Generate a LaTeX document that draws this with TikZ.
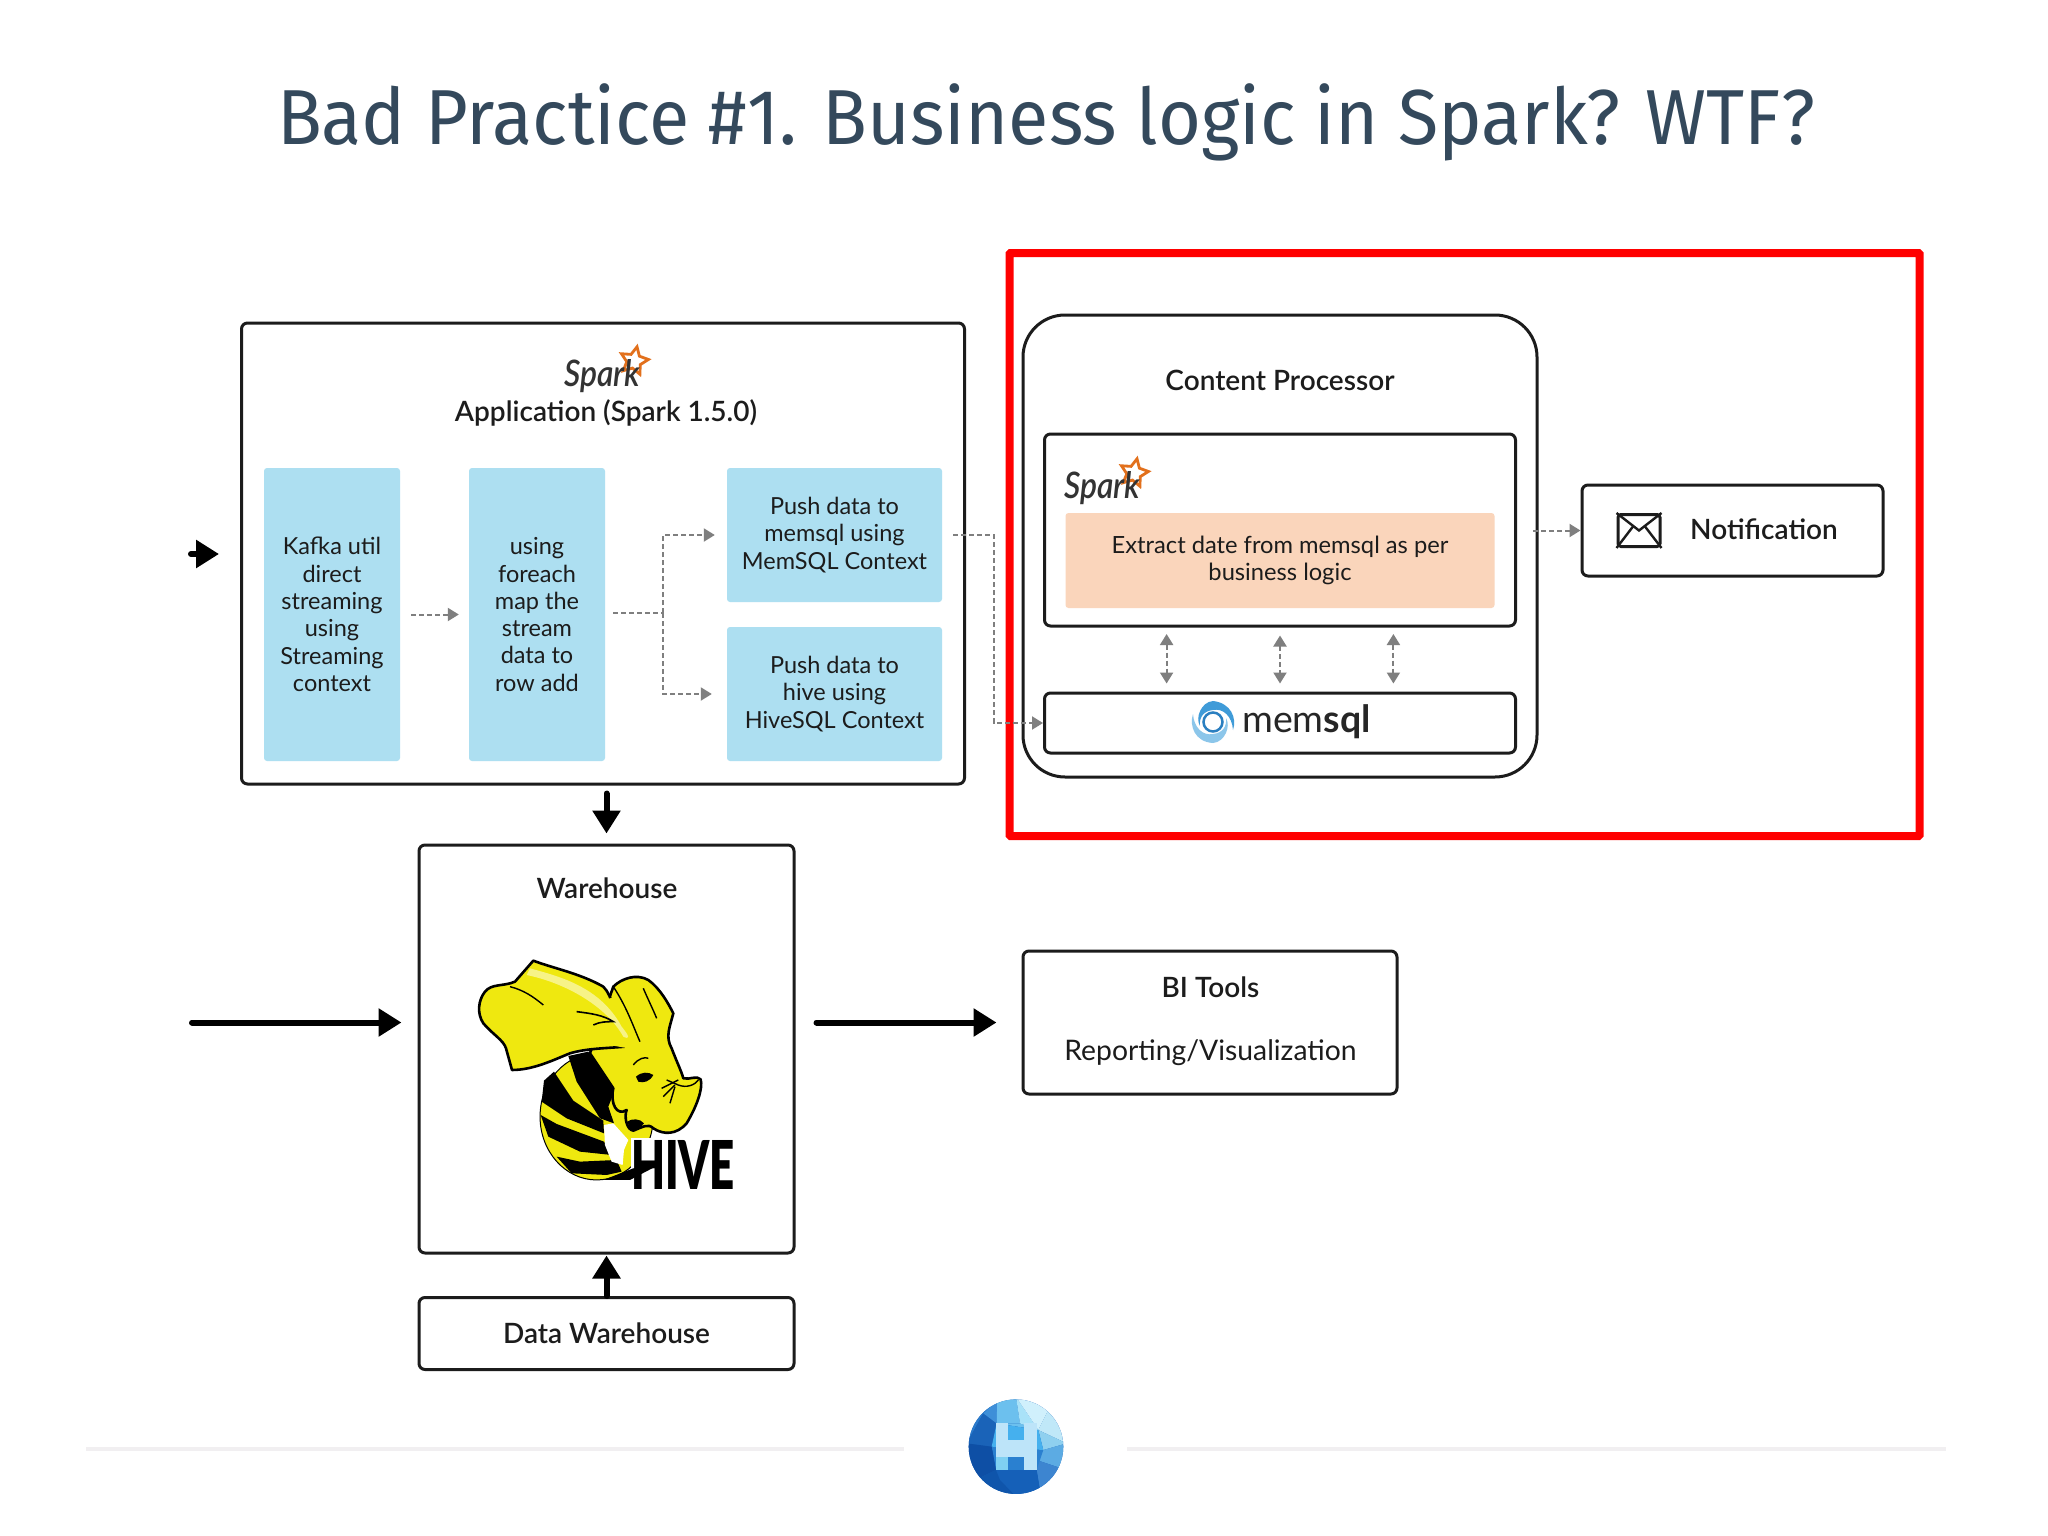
\documentclass[tikz,border=0pt]{standalone}
\usepackage{fontspec}
\usetikzlibrary{arrows.meta,shapes.geometric,calc}
\setmainfont{Lato}
\newfontfamily\titlefont{Fira Sans}
\newfontfamily\medfont{Lato Semibold}
\newfontfamily\heavyfont{Lato Black}
\definecolor{titlecol}{HTML}{34495C}
\definecolor{inkcol}{HTML}{1C1C1C}
\definecolor{skycol}{HTML}{ADDFF1}
\definecolor{peachcol}{HTML}{FAD5BB}
\definecolor{redcol}{HTML}{FF0000}
\definecolor{greycol}{HTML}{7F7F7F}
\definecolor{footcol}{HTML}{F1EFF1}
\definecolor{hiveyel}{HTML}{EFE80F}
\definecolor{sparkorange}{HTML}{E2701C}
\definecolor{swirla}{HTML}{3F9BD8}
\definecolor{swirlb}{HTML}{8CC6EA}
\definecolor{swirlc}{HTML}{2B7FC0}
\definecolor{HBbase}{HTML}{1560B8}
\definecolor{HBa}{HTML}{1A63B8}
\definecolor{HBb}{HTML}{3E8FD8}
\definecolor{HBc}{HTML}{6CC0EE}
\definecolor{HBd}{HTML}{A9E2F8}
\definecolor{HBe}{HTML}{D0F0FC}
\definecolor{HBf}{HTML}{C0E8F8}
\definecolor{HBg}{HTML}{8FD0EF}
\definecolor{HBh}{HTML}{5CABE3}
\definecolor{HBi}{HTML}{3D85D0}
\definecolor{HBj}{HTML}{2A80D0}
\definecolor{HBk}{HTML}{45B0EE}
\definecolor{HBl}{HTML}{1560B8}
\definecolor{HBm}{HTML}{0E4FA5}
\definecolor{HBn}{HTML}{0F55AB}
\definecolor{HBo}{HTML}{BDE4F9}
\definecolor{HBp}{HTML}{7FD0F2}
\definecolor{HBq}{HTML}{2A7ACB}
\tikzset{
  x=1pt,y=-1pt,
  frame/.style={draw=inkcol,line width=3pt,rounded corners=6pt,fill=white,inner sep=0pt},
  sky/.style={fill=skycol,rounded corners=3pt,inner sep=0pt,text=inkcol,align=center,font=\fontsize{23.5}{27.3}\selectfont},
  heading/.style={inner sep=0pt,text=inkcol,align=center,font=\fontsize{28}{32}\medfont},
  dashgrey/.style={draw=greycol,line width=2pt,dash pattern=on 5pt off 3pt,-{Triangle[length=11pt,width=13pt,fill=greycol]}},
  dashplain/.style={draw=greycol,line width=2pt,dash pattern=on 5pt off 3pt},
  dashboth/.style={draw=greycol,line width=2pt,dash pattern=on 5pt off 3pt,{Triangle[length=11pt,width=13pt,fill=greycol]}-{Triangle[length=11pt,width=13pt,fill=greycol]}},
  heavy/.style={draw=black,line width=6pt,line cap=round,-{Triangle[length=23pt,width=27pt,fill=black]}},
  hiveline/.style={draw=black,line join=round,fill=hiveyel},
}
\newcommand{\sparkmark}[3]{%
  \node[star,star points=5,star point ratio=2,draw=sparkorange,line width=2.8pt,fill=white,inner sep=0pt,minimum size=29pt,rotate=-12] (#1s) at (#2+70,#3+16) {};
  \node[inner sep=0pt,anchor=north west,text=black!80] (#1t) at (#2,#3+14) {\resizebox{76pt}{27pt}{\medfont\itshape Spark}};
}
\begin{document}
\begin{tikzpicture}
\useasboundingbox[fill=white] (0,0) rectangle (2048,1536);

% title
\node[inner sep=0pt,text=titlecol,font=\fontsize{78}{90}\titlefont] (title) at (1046,122) {\scalebox{0.945}[1]{Bad Practice \#1. Business logic in Spark? WTF?}};

% red highlight
\node[draw=redcol,line width=8pt,minimum width=910pt,minimum height=583pt,inner sep=0pt,rounded corners=1pt] (redframe) at (1464.5,544.5) {};

% application box
\node[frame,minimum width=723pt,minimum height=461pt] (app) at (603,553.5) {};
\sparkmark{sparka}{564}{345}
\node[heading] (apptitle) at (606,413) {Application (Spark 1.5.0)};
\node[sky,minimum width=136pt,minimum height=293pt] (kafka) at (332,614.5) {Kafka util\\direct\\streaming\\using\\Streaming\\context};
\node[sky,minimum width=136pt,minimum height=293pt] (foreach) at (537,614.5) {using\\foreach\\map the\\stream\\data to\\row add};
\node[sky,minimum width=215pt,minimum height=134pt] (pusha) at (834.5,535) {Push data to\\memsql using\\MemSQL Context};
\node[sky,minimum width=215pt,minimum height=134pt] (pushb) at (834.5,694) {Push data to\\hive using\\HiveSQL Context};

% content processor
\node[draw=inkcol,line width=3pt,rounded corners=42pt,inner sep=0pt,minimum width=514pt,minimum height=462pt] (cp) at (1280,546) {};
\node[heading] (cptitle) at (1280,380) {Content Processor};
\node[frame,minimum width=471pt,minimum height=192pt] (sparkbox) at (1280,530) {};
\sparkmark{sparkb}{1064}{457}
\node[fill=peachcol,rounded corners=3pt,inner sep=0pt,minimum width=429pt,minimum height=95pt,text=inkcol,align=center,font=\fontsize{23.7}{27.5}\selectfont] (extract) at (1280,560.5) {Extract date from memsql as per\\business logic};
\node[frame,minimum width=471pt,minimum height=60pt] (memsql) at (1280,723) {};
% memsql swirl
\begin{scope}[shift={(1213,722)}]
  \fill[color=swirla] (0,-21) .. controls (18,-19) and (24,-4) .. (20,8) .. controls (19,-6) and (10,-14) .. (0,-12) .. controls (-10,-11) and (-14,-4) .. (-13,4) .. controls (-18,-4) and (-12,-20) .. (0,-21);
  \fill[color=swirlb] (0,21) .. controls (-18,20) and (-24,4) .. (-20,-8) .. controls (-19,6) and (-10,14) .. (0,12) .. controls (10,11) and (14,4) .. (13,-4) .. controls (18,4) and (12,20) .. (0,21);
  \draw[draw=swirlc,line width=2.5pt] (0,0) circle (9.5pt);
\end{scope}
\node[inner sep=0pt,anchor=west,text=black!85,font=\fontsize{37.5}{44}\selectfont] (memtext) at (1242,722) {mem\textbf{sql}};

% notification
\node[frame,minimum width=301pt,minimum height=91pt] (notif) at (1732.5,530.5) {};
\node[heading] (notiftext) at (1764,529) {Notification};
\node[draw=inkcol,line width=3pt,rounded corners=3pt,inner sep=0pt,minimum width=42pt,minimum height=32pt] (envelope) at (1639,530.5) {};
\draw[draw=inkcol,line width=2.4pt] (envelope.north west) -- (envelope.center) -- (envelope.north east);
\draw[draw=inkcol,line width=2.4pt] (envelope.south west) -- ($(envelope.center)+(-6,-4)$);
\draw[draw=inkcol,line width=2.4pt] (envelope.south east) -- ($(envelope.center)+(6,-4)$);

% warehouse
\node[frame,minimum width=375pt,minimum height=408pt] (wh) at (606.5,1049) {};
\node[heading] (whtitle) at (607,888.5) {Warehouse};

% hive logo
\begin{scope}[shift={(400,840)},x=0.3333pt,y=-0.3333pt]
  \path[fill=hiveyel,draw=black,line width=1pt] (590,830) ellipse[x radius=56.6pt,y radius=63.3pt];
  \fill[color=black] (505,648) -- (565,635) -- (645,750) -- (625,800) -- (642,850) -- (600,835) -- (530,725) -- cycle;
  \fill[color=black] (432,722) -- (462,695) -- (520,782) -- (610,842) -- (612,880) -- (500,835) -- (425,785) -- cycle;
  \fill[color=black] (422,825) -- (470,852) -- (612,905) -- (635,945) -- (540,935) -- (445,890) -- cycle;
  \fill[color=black] (470,950) -- (540,965) -- (650,960) -- (665,995) -- (620,1005) -- (515,1000) -- cycle;
  \path[fill=white] (612,855) -- (640,850) -- (685,900) -- (672,930) -- (668,975) -- (635,965) -- (615,915) -- cycle;
  % head and trunk
  \path[hiveline,line width=2.6pt] (640,440) .. controls (665,415) and (710,400) .. (745,420) .. controls (780,445) and (805,490) .. (820,520) .. controls (810,560) and (795,590) .. (815,625) .. controls (830,665) and (845,695) .. (850,715) .. controls (870,720) and (890,705) .. (902,718) .. controls (910,745) and (890,800) .. (860,850) .. controls (830,885) and (790,885) .. (760,865) .. controls (745,850) and (730,860) .. (700,872) .. controls (680,870) and (672,830) .. (680,810) .. controls (650,830) and (630,790) .. (640,745) -- (570,640) -- cycle;
  \fill[color=black] (682,845) .. controls (695,835) and (720,835) .. (732,850) .. controls (715,870) and (700,878) .. (690,868) -- cycle;
  % ear
  \path[hiveline,line width=2.6pt] (400,362) -- (345,425) .. controls (310,440) and (275,430) .. (255,455) .. controls (235,480) and (230,520) .. (250,550) .. controls (280,585) and (310,600) .. (318,625) -- (336,690) .. controls (400,690) and (460,660) .. (510,640) .. controls (560,625) and (620,625) .. (675,620) .. controls (640,520) and (640,470) .. (610,440) .. controls (540,400) and (460,385) .. (400,362) -- cycle;
  \path[fill=hiveyel] (600,610) -- (685,625) -- (650,470) -- (610,480) -- cycle;
  \fill[color=white!50!hiveyel] (390,385) .. controls (480,410) and (600,440) .. (665,560) .. controls (690,590) and (690,600) .. (670,590) .. controls (620,500) and (500,430) .. (380,405) -- cycle;
  \draw[draw=black,line width=1.4pt] (330,440) .. controls (370,450) and (400,470) .. (430,495);
  \draw[draw=black,line width=1.6pt] (530,515) .. controls (570,520) and (610,525) .. (640,545) .. controls (620,545) and (600,545) .. (580,555);
  \draw[draw=black,line width=1.4pt] (640,440) .. controls (680,500) and (700,560) .. (720,605);
  \draw[draw=black,line width=1.4pt] (730,445) .. controls (745,480) and (760,510) .. (770,535);
  % eye and wrinkles
  \fill[color=black] (708,710) .. controls (725,695) and (745,695) .. (760,705) .. controls (750,725) and (730,730) .. (715,725) -- cycle;
  \draw[draw=black,line width=1.4pt] (700,675) .. controls (715,655) and (735,650) .. (745,655);
  \draw[draw=black,line width=1.4pt] (785,745) -- (835,720);
  \draw[draw=black,line width=1.4pt] (790,770) -- (825,735);
  \draw[draw=black,line width=1.4pt] (810,790) -- (825,740);
  \draw[draw=black,line width=1.4pt] (800,720) -- (835,735);
  \draw[draw=black,line width=1.4pt] (835,735) .. controls (860,745) and (885,735) .. (895,720);
  \path[fill=white,draw=none] (693,895) rectangle (1010,1055);
  \fill[color=black] (610,1020) -- (700,985) -- (770,978) -- (690,1020) -- cycle;
\end{scope}
\node[inner sep=0pt,text=black,anchor=center] (hivetext) at (683,1165) {\resizebox{104pt}{49pt}{\heavyfont HIVE}};

% data warehouse, BI
\node[frame,minimum width=375pt,minimum height=72pt] (dw) at (606.5,1333.5) {};
\node[heading] (dwt) at (606.5,1333) {Data Warehouse};
\node[frame,minimum width=374pt,minimum height=143pt] (bi) at (1210,1022.5) {};
\node[heading] (bita) at (1210.5,987) {BI Tools};
\node[inner sep=0pt,text=inkcol,font=\fontsize{28.3}{32}\selectfont] (bitb) at (1210.5,1052.5) {Reporting/Visualization};

% dashed connectors
\draw[dashgrey,shorten <=11pt,shorten >=10pt] (kafka.east) -- (foreach.west);
\coordinate (branch) at (663,613);
\draw[dashplain,shorten <=8pt] (foreach.east |- branch) -- (branch);
\draw[dashgrey,shorten >=12pt] (branch) |- (pusha.west);
\draw[dashgrey,shorten >=15pt] (branch) |- (pushb.west);
\coordinate (bend) at (994,535);
\draw[dashgrey,shorten <=11pt] (pusha.east) -- (bend) |- (memsql.west);
\draw[dashgrey,shorten <=16pt] (sparkbox.east |- notif.west) -- (notif.west);
\coordinate (sa) at (1166.6,626);
\coordinate (sb) at (1393.4,626);
\draw[dashboth,shorten <=8pt,shorten >=8pt] (sa) -- (sa |- memsql.north);
\draw[dashboth,shorten <=8pt,shorten >=8pt] (sparkbox.south) -- (memsql.north);
\draw[dashboth,shorten <=8pt,shorten >=8pt] (sb) -- (sb |- memsql.north);

% heavy connectors
\coordinate (ina) at (191,554);
\coordinate (inatip) at (219,554);
\draw[heavy] (ina) -- (inatip);
\draw[heavy,shorten <=8pt,shorten >=10pt] (app.south -| wh.north) -- (wh.north);
\coordinate (inb) at (192,1022.5);
\draw[heavy,shorten >=16pt] (inb) -- (inb -| wh.west);
\draw[heavy,shorten <=21pt,shorten >=25pt] (bi.west -| wh.east) -- (bi.west);
\draw[heavy,shorten >=1pt] (dw.north) -- (wh.south);

% footer
\coordinate (fa) at (86,1449);
\coordinate (fb) at (904,1449);
\coordinate (fc) at (1127,1449);
\coordinate (fd) at (1946,1449);
\draw[draw=footcol,line width=4pt] (fa) -- (fb);
\draw[draw=footcol,line width=4pt] (fc) -- (fd);
\begin{scope}[shift={(880,1380)},x=0.3333pt,y=-0.3333pt]
  \clip (408,200) circle (47.3pt);
  \fill[color=HBbase] (260,50) rectangle (560,350);
  \fill[color=HBq] (260,190) -- (310,100) -- (352,60) -- (260,50) -- cycle;
  \fill[color=HBe] (408,50) -- (560,50) -- (510,80) -- cycle;
  \fill[color=HBf] (510,80) -- (560,50) -- (560,190) -- cycle;
  \fill[color=HBi] (545,265) -- (560,350) -- (480,330) -- cycle;
  \fill[color=HBa] (260,190) -- (310,100) -- (350,130) -- (335,200) -- cycle;
  \fill[color=HBb] (310,100) -- (352,60) -- (350,130) -- cycle;
  \fill[color=HBc] (352,60) -- (408,50) -- (420,130) -- (350,130) -- cycle;
  \fill[color=HBc] (350,130) -- (420,130) -- (475,150) -- cycle;
  \fill[color=HBd] (408,50) -- (420,130) -- (475,150) -- cycle;
  \fill[color=HBe] (408,50) -- (510,80) -- (475,150) -- cycle;
  \fill[color=HBf] (510,80) -- (560,190) -- (475,150) -- cycle;
  \fill[color=HBg] (475,150) -- (560,190) -- (490,210) -- cycle;
  \fill[color=HBh] (490,210) -- (560,190) -- (545,265) -- (470,240) -- cycle;
  \fill[color=HBi] (470,240) -- (545,265) -- (480,330) -- (470,270) -- cycle;
  \fill[color=HBj] (335,200) -- (490,210) -- (470,270) -- (348,270) -- cycle;
  \fill[color=HBk] (350,130) -- (475,150) -- (490,210) -- (335,200) -- cycle;
  \fill[color=HBl] (348,270) -- (470,270) -- (480,330) -- (408,350) -- (360,300) -- cycle;
  \fill[color=HBm] (260,190) -- (335,200) -- (348,270) -- (285,300) -- cycle;
  \fill[color=HBn] (285,300) -- (348,270) -- (360,300) -- (408,350) -- (330,335) -- cycle;
  \fill[color=HBo] (348,130) rectangle (385,270);
  \fill[color=HBo] (432,130) rectangle (470,270);
  \fill[color=HBo] (385,180) rectangle (432,232);
  \fill[color=HBp] (348,232) -- (385,232) -- (385,270) -- (348,270) -- cycle;
\end{scope}
\end{tikzpicture}
\end{document}
